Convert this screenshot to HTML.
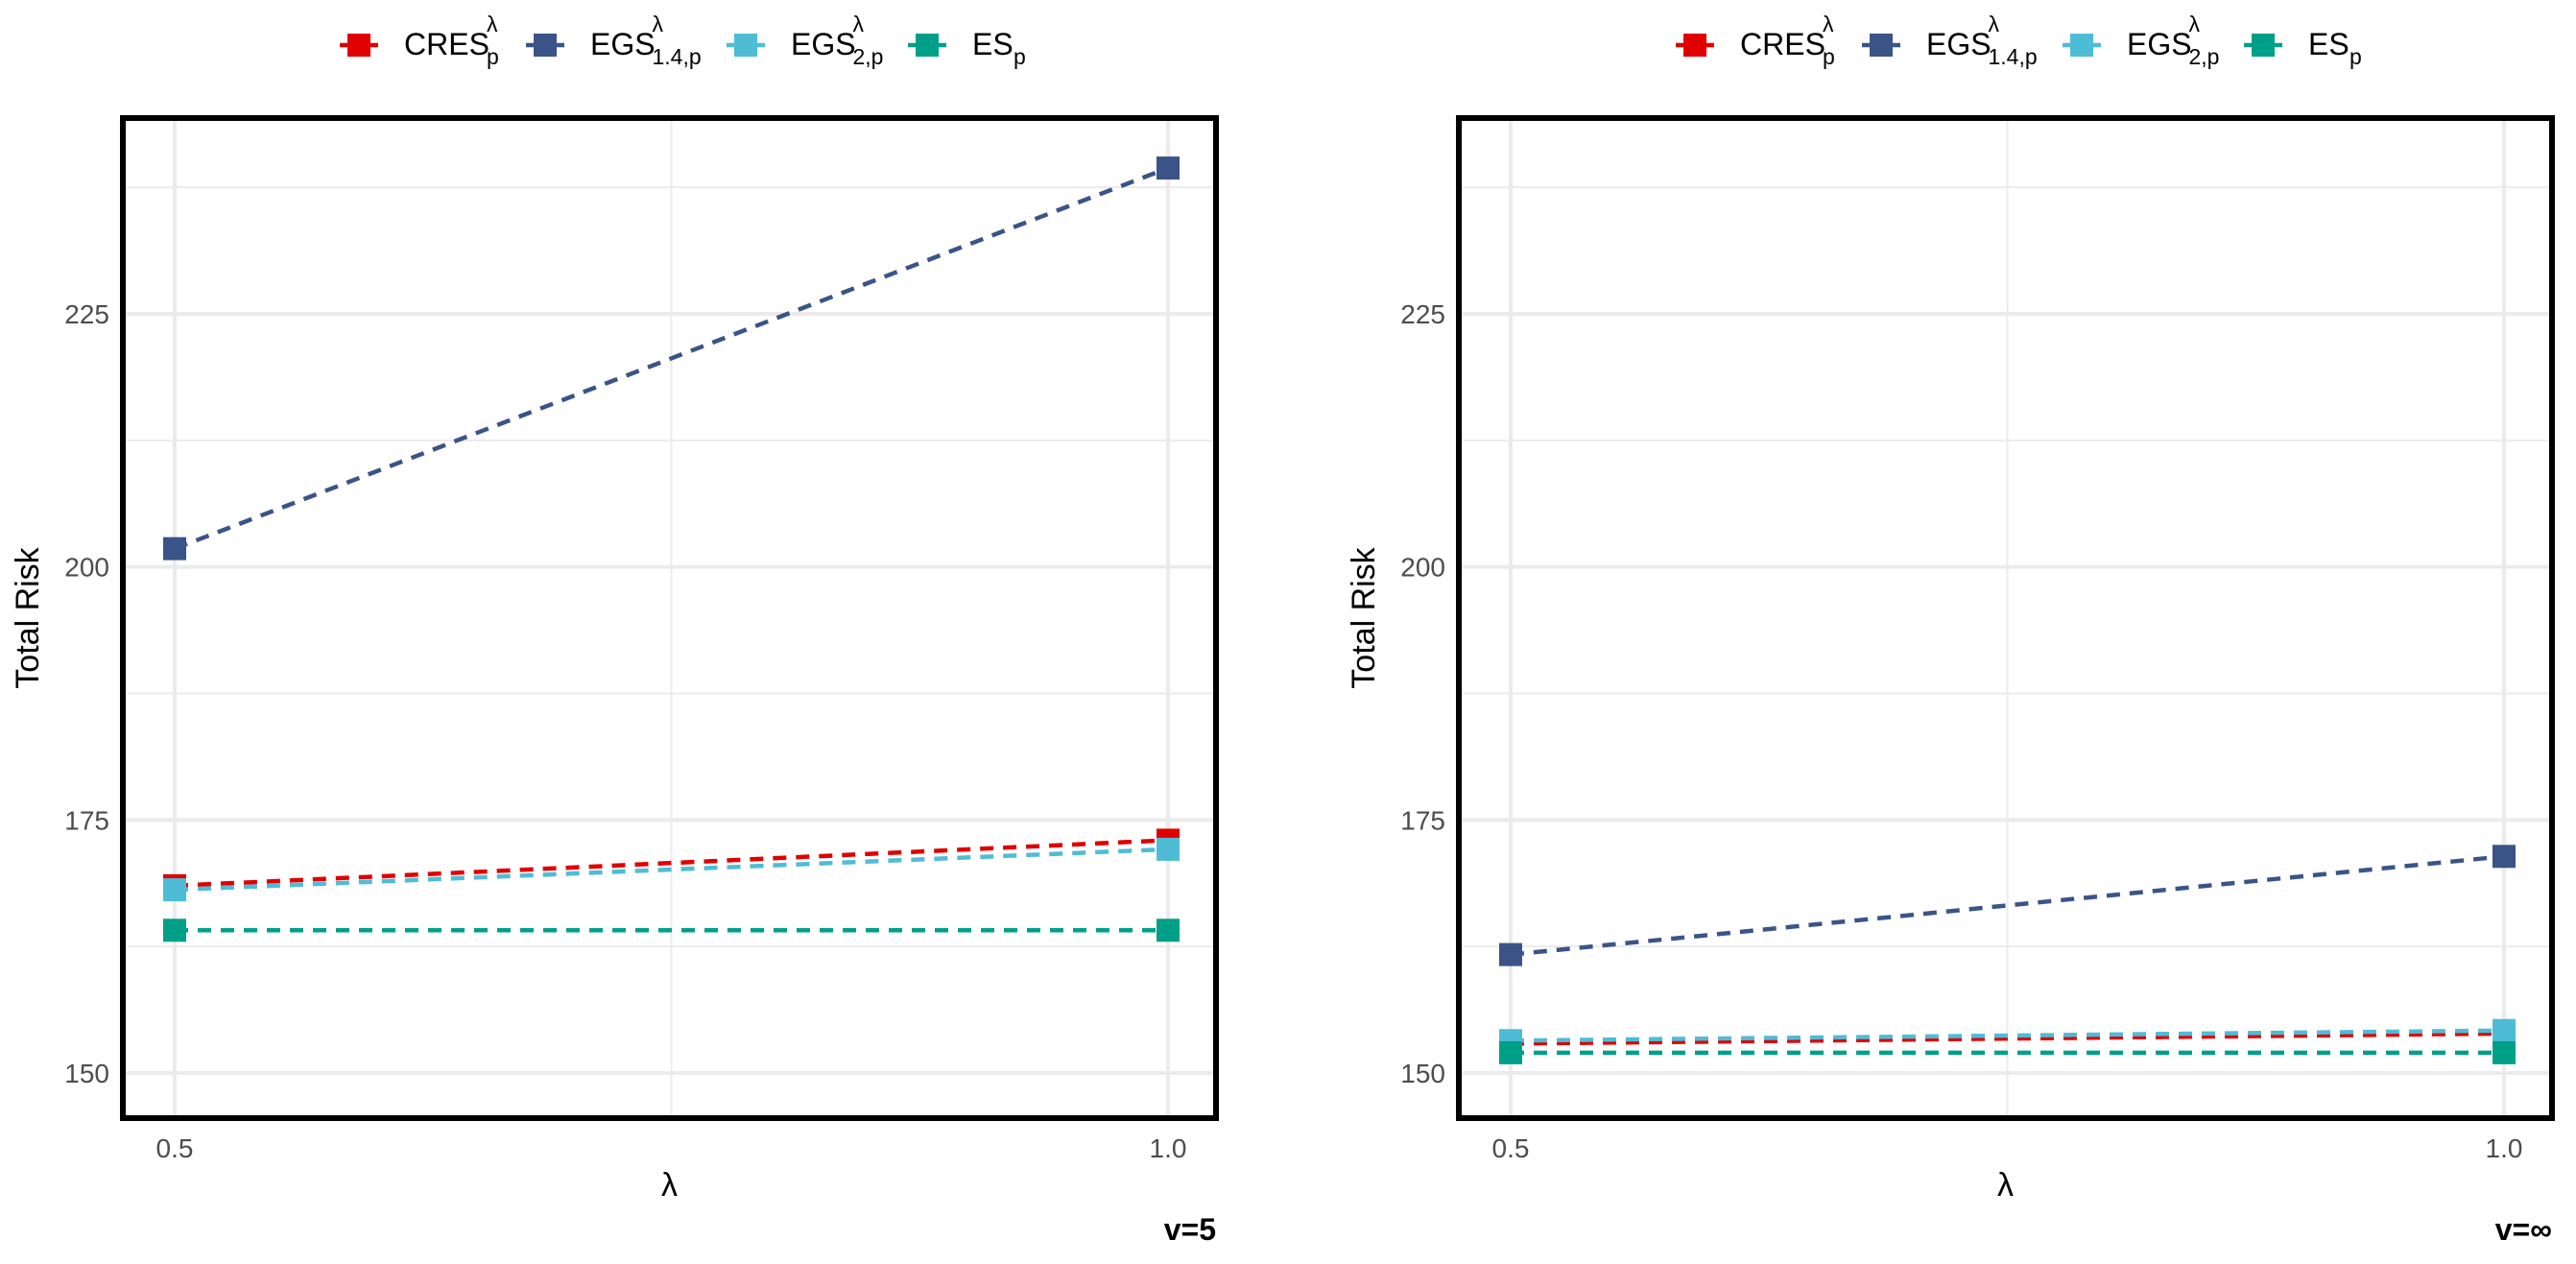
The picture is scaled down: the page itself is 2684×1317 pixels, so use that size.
<!DOCTYPE html>
<html><head><meta charset="utf-8"><style>
html,body{margin:0;padding:0;background:#fff;}
svg{display:block;font-family:"Liberation Sans",sans-serif;}
</style></head><body>
<svg id="chart" width="2684" height="1317" viewBox="0 0 2684 1317" xmlns="http://www.w3.org/2000/svg"></svg>
<script>
const categories = [0.5, 1.0];
const seriesNames = ["CRES", "EGS14", "EGS2", "ES"];
const colors = ["#e00000", "#3b5487", "#4fbcd6", "#00a088"];
const leftCRES = [168.5, 173.0];
const leftEGS14 = [201.8, 239.4];
const leftEGS2 = [168.1, 172.1];
const leftES = [164.1, 164.1];
const rightCRES = [152.9, 153.9];
const rightEGS14 = [161.7, 171.4];
const rightEGS2 = [153.2, 154.2];
const rightES = [152.0, 152.0];
const yTicks = [150, 175, 200, 225];
const yMinor = [162.5, 187.5, 212.5, 237.5];
const xTicks = [0.5, 1.0];
const xTickLabels = ["0.5", "1.0"];
const panelLabels = ["v=5", "v=\u221E"];

const NS = "http://www.w3.org/2000/svg";
const svg = document.getElementById("chart");
function mk(tag, attrs, parent) {
  const e = document.createElementNS(NS, tag);
  for (const k in attrs) e.setAttribute(k, attrs[k]);
  (parent || svg).appendChild(e);
  return e;
}
function yScale(v) { return 1118 - (v - 150) * 10.547; }

const panels = [
  {off: 0, data: [leftCRES, leftEGS14, leftEGS2, leftES]},
  {off: 1392, data: [rightCRES, rightEGS14, rightEGS2, rightES]}
];

panels.forEach((p, pi) => {
  const L = 128 + p.off, R = 1267 + p.off, T = 123, B = 1165;
  const xScale = v => 182 + p.off + (v - 0.5) * 2070;
  const g = mk("g", {});
  
  
  yMinor.forEach(v => { const l = mk("line", {x1: L, x2: R, y1: yScale(v), y2: yScale(v), stroke: "#ebebeb", "stroke-width": 2}, g);
      });
  { const l = mk("line", {x1: xScale(0.75), x2: xScale(0.75), y1: T, y2: B, stroke: "#ebebeb", "stroke-width": 2}, g);
      }
  yTicks.forEach(v => {
    const l = mk("line", {x1: L, x2: R, y1: yScale(v), y2: yScale(v), stroke: "#ebebeb", "stroke-width": 4}, g);
     
    const t = mk("text", {x: L - 14, y: yScale(v) + 10, "text-anchor": "end", "font-size": 28, fill: "#4d4d4d"}, g);
     
    t.textContent = v;
  });
  xTicks.forEach((v, i) => {
    const l = mk("line", {x1: xScale(v), x2: xScale(v), y1: T, y2: B, stroke: "#ebebeb", "stroke-width": 4}, g);
     
    const t = mk("text", {x: xScale(v), y: 1206, "text-anchor": "middle", "font-size": 28, fill: "#4d4d4d"}, g);
     
    t.textContent = xTickLabels[i];
  });
  p.data.forEach((vals, si) => {
    const pts = categories.map((c, i) => xScale(c) + "," + yScale(vals[i])).join(" ");
    const pl = mk("polyline", {points: pts, fill: "none", stroke: colors[si], "stroke-width": 4.5, "stroke-dasharray": "14 10"}, g);
    
    
  });
  p.data.forEach((vals, si) => {
    categories.forEach((c, i) => {
      const r = mk("rect", {x: xScale(c) - 12, y: yScale(vals[i]) - 12, width: 24, height: 24, fill: colors[si]}, g);
      
      
    });
  });
  const b = mk("rect", {x: L, y: T, width: R - L, height: B - T, fill: "none", stroke: "#000", "stroke-width": 6}, g);
   
  const yt = mk("text", {x: 0, y: 0, "font-size": 34, fill: "#000", "text-anchor": "middle", transform: "translate(" + (40 + p.off) + "," + 644 + ") rotate(-90)"}, g);
   
  yt.textContent = "Total Risk";
  const xt = mk("text", {x: (L + R) / 2, y: 1246, "font-size": 34, fill: "#000", "text-anchor": "middle"}, g);
   
  xt.textContent = "\u03BB";
  const pt = mk("text", {x: R, y: 1292, "font-size": 32, "font-weight": "bold", fill: "#000", "text-anchor": "end"}, g);
   
  pt.textContent = panelLabels[pi];
  const lg = mk("g", {}, g);
   
  const lx = [374, 568, 777, 966];
  const labels = [["CRES", "p", "\u03BB"], ["EGS", "1.4,p", "\u03BB"], ["EGS", "2,p", "\u03BB"], ["ES", "p", ""]];
  lx.forEach((x0, i) => {
    const x = x0 + p.off;
    const e = mk("g", {}, lg);
    
    
    mk("line", {x1: x - 20, x2: x + 20, y1: 47, y2: 47, stroke: colors[i], "stroke-width": 4.5}, e);
    mk("rect", {x: x - 12, y: 35, width: 24, height: 24, fill: colors[i]}, e);
    const t = mk("text", {x: x + 47, y: 57, "font-size": 32, fill: "#000"}, e);
    const base = labels[i][0];
    t.textContent = base;
    const bw = base.length * 21.5;
    if (labels[i][2]) {
      const s = mk("text", {x: x + 47 + bw, y: 33, "font-size": 23, fill: "#000"}, e);
      s.textContent = labels[i][2];
    }
    const sb = mk("text", {x: x + 47 + bw, y: 67, "font-size": 23, fill: "#000"}, e);
    sb.textContent = labels[i][1];
  });
});
</script>
</body></html>
